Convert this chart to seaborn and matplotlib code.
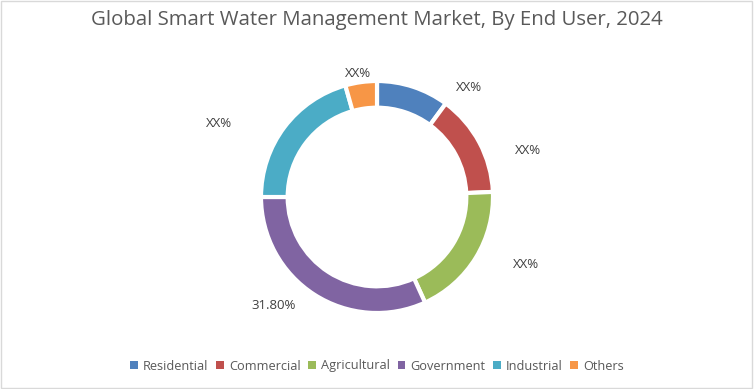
import matplotlib
matplotlib.use("Agg")
import matplotlib.pyplot as plt
import seaborn as sns
from matplotlib.patches import Rectangle, Patch
import numpy as np

# data
segments = ['Residential', 'Commercial', 'Agricultural', 'Government', 'Industrial', 'Others']
shares = [10.1, 14.2, 18.9, 31.8, 20.6, 4.4]
labels = ['XX%', 'XX%', 'XX%', '31.80%', 'XX%', 'XX%']
colors = ['#4f81bd', '#c0504d', '#9bbb59', '#8064a2', '#4bacc6', '#f79646']

# label placement tweaks (angle shift in degrees, distance from centre in radii)
label_shift = [-22, -11, 7, -11, 12, 1]
label_dist = [1.23, 1.36, 1.41, 1.29, 1.5, 1.08]

sns.set_theme(style="white")
plt.rcParams['font.family'] = ['Open Sans', 'DejaVu Sans']

fig = plt.figure(figsize=(7.54, 3.89), dpi=100)
ax = fig.add_axes([0, 0, 1, 1])

R = 116.0  # pixels per data unit
wedges, _ = ax.pie(shares, colors=colors, startangle=90, counterclock=False,
                   radius=1.0,
                   wedgeprops=dict(width=0.23, edgecolor='white', linewidth=3))

# labels placed around the ring like the original's best-fit labels
for w, lab, sh, d in zip(wedges, labels, label_shift, label_dist):
    mid = np.deg2rad((w.theta1 + w.theta2) / 2 + sh)
    ax.text(d * np.cos(mid), d * np.sin(mid), lab, ha='center', va='center',
            color='#404040', fontsize=9.5)

ax.set_xlim(-377 / R, 377 / R)
ax.set_ylim(-192 / R, 197 / R)
ax.set_aspect('equal')
ax.axis('off')

fig.text(0.5, 1 - 20 / 389, 'Global Smart Water Management Market, By End User, 2024',
         ha='center', va='center', fontsize=14.7, color='#595959')

handles = [Patch(facecolor=c, edgecolor='none') for c in colors]
fig.legend(handles, segments, loc='center', bbox_to_anchor=(0.5, 1 - 366 / 389),
           ncol=6, frameon=False, fontsize=9.2, handlelength=0.6, handleheight=0.6,
           handletextpad=0.4, columnspacing=0.6, labelcolor='#595959')

fig.patches.append(Rectangle((0.001, 0.002), 0.997, 0.995, transform=fig.transFigure,
                             fill=False, edgecolor='#d9d9d9', linewidth=1))

fig.savefig('out.png', dpi=100)
